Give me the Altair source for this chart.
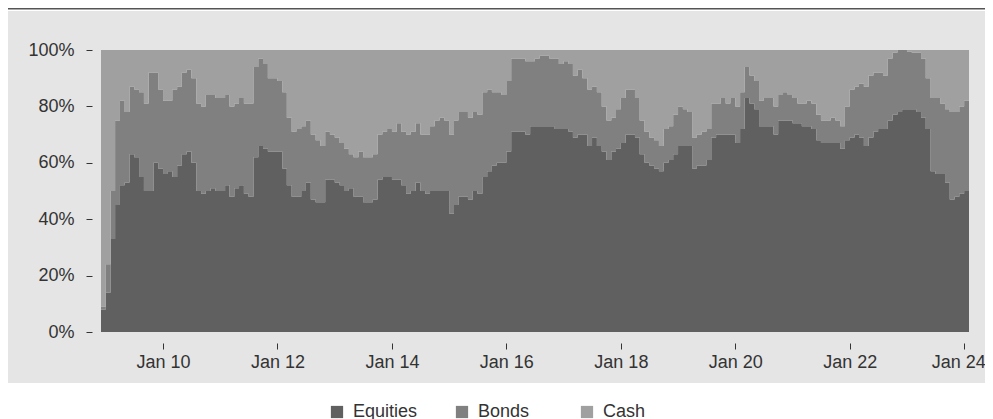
import altair as alt
import pandas as pd

start_month = "2008-12-01"
n_months = 182

equities = [8, 14, 33, 45, 52, 53, 63, 62, 55, 50, 50, 60, 58, 56, 57, 55, 59, 63, 64, 60,
            50, 49, 50, 51, 50, 50, 52, 48, 51, 52, 49, 48, 62, 66, 65, 64, 64, 64, 58, 52,
            48, 48, 50, 53, 47, 46, 46, 54, 54, 53, 52, 50, 51, 48, 48, 46, 46, 47, 54, 55,
            55, 54, 54, 52, 49, 50, 53, 50, 49, 50, 50, 50, 50, 42, 45, 48, 48, 47, 50, 49,
            55, 57, 59, 60, 60, 64, 71, 71, 71, 70, 73, 73, 73, 73, 73, 72, 72, 72, 71, 69,
            70, 70, 66, 69, 66, 64, 61, 64, 65, 67, 70, 70, 69, 63, 60, 59, 58, 57, 60, 61,
            63, 66, 66, 66, 58, 59, 59, 61, 69, 70, 70, 70, 70, 67, 72, 83, 81, 79, 73, 73,
            73, 70, 75, 75, 75, 74, 74, 73, 73, 72, 68, 67, 67, 67, 67, 65, 68, 69, 70, 69,
            66, 69, 71, 72, 72, 75, 77, 78, 79, 79, 79, 78, 76, 72, 57, 56, 56, 53, 47, 48,
            49, 50]

bonds = [1, 10, 17, 30, 30, 25, 24, 24, 30, 31, 42, 32, 28, 26, 25, 31, 28, 29, 29, 30,
         31, 31, 34, 33, 33, 33, 32, 32, 30, 31, 32, 33, 32, 31, 30, 26, 26, 25, 27, 24,
         23, 24, 23, 22, 23, 22, 20, 17, 16, 16, 15, 15, 12, 14, 16, 16, 16, 16, 16, 16,
         17, 17, 20, 19, 21, 21, 21, 20, 21, 23, 25, 26, 25, 28, 30, 30, 30, 29, 28, 28,
         30, 29, 26, 25, 24, 25, 26, 26, 26, 26, 23, 24, 25, 25, 24, 25, 23, 24, 24, 22,
         23, 20, 20, 18, 19, 16, 14, 12, 14, 16, 16, 16, 14, 12, 11, 10, 10, 9, 12, 12,
         14, 14, 13, 12, 11, 11, 12, 11, 12, 11, 13, 11, 13, 13, 13, 11, 10, 10, 9, 10,
         10, 10, 9, 10, 9, 9, 7, 8, 9, 9, 9, 8, 8, 9, 8, 8, 12, 17, 17, 19,
         21, 22, 21, 20, 19, 22, 22, 22, 21, 20.5, 20, 21, 21, 18, 26, 27, 25, 26, 31, 30,
         31, 32]

cash = [91, 76, 50, 25, 18, 22, 13, 14, 15, 19, 8, 8, 14, 18, 18, 14, 13, 8, 7, 10,
        19, 20, 16, 16, 17, 17, 16, 20, 19, 17, 19, 19, 6, 3, 5, 10, 10, 11, 15, 24,
        29, 28, 27, 25, 30, 32, 34, 29, 30, 31, 33, 35, 37, 38, 36, 38, 38, 37, 30, 29,
        28, 29, 26, 29, 30, 29, 26, 30, 30, 27, 25, 24, 25, 30, 25, 22, 22, 24, 22, 23,
        15, 14, 15, 15, 16, 11, 3, 3, 3, 4, 4, 3, 2, 2, 3, 3, 5, 4, 5, 9,
        7, 10, 14, 13, 15, 20, 25, 24, 21, 17, 14, 14, 17, 25, 29, 31, 32, 34, 28, 27,
        23, 20, 21, 22, 31, 30, 29, 28, 19, 19, 17, 19, 17, 20, 15, 6, 9, 11, 18, 17,
        17, 20, 16, 15, 16, 17, 19, 19, 18, 19, 23, 25, 25, 24, 25, 27, 20, 14, 13, 12,
        13, 9, 8, 8, 9, 3, 1, 0, 0, 0.5, 1, 1, 3, 10, 17, 17, 19, 21, 22, 22,
        20, 18]

series_names = ["Equities", "Bonds", "Cash"]
series_colors = ["#606060", "#808080", "#a0a0a0"]
tick_years = [2010, 2012, 2014, 2016, 2018, 2020, 2022, 2024]
pct_ticks = [0, 0.2, 0.4, 0.6, 0.8, 1.0]

# Step table: one row per month start; the last month is also closed at its end date
months = list(pd.date_range(start_month, periods=n_months, freq="MS"))
stamps = months + [months[-1] + pd.offsets.MonthBegin(1)]
rows = []
for j, t in enumerate(stamps):
    i = min(j, n_months - 1)
    vals = [equities[i], bonds[i], cash[i]]
    total = float(sum(vals))
    base = 0.0
    for k, name in enumerate(series_names):
        top = base + vals[k] / total
        rows.append({
            "t": t.strftime("%Y-%m-%dT00:00:00"),
            "series": name,
            "lo": base,
            "hi": top,
        })
        base = top
df = pd.DataFrame(rows)

W, H = 868, 282
PAD_L, PAD_T, PAD_R, PAD_B = 93, 42, 16, 100

panel = alt.Chart(pd.DataFrame({"p": [0]})).mark_rect(color="#e5e5e5").encode(
    x=alt.value(-PAD_L), x2=alt.value(W + PAD_R),
    y=alt.value(-39), y2=alt.value(333),
)
topline = alt.Chart(pd.DataFrame({"p": [0]})).mark_rule(color="#555555", strokeWidth=1.6).encode(
    x=alt.value(-PAD_L), x2=alt.value(W + PAD_R), y=alt.value(-41.2),
)

color_scale = alt.Scale(domain=series_names, range=series_colors)

areas = alt.Chart(df).mark_area(interpolate="step-after").encode(
    x=alt.X(
        "t:T",
        scale=alt.Scale(
            domain=[alt.DateTime(year=2008, month=12, date=1),
                    alt.DateTime(year=2024, month=2, date=1)],
            nice=False,
        ),
        axis=alt.Axis(
            values=[alt.DateTime(year=y, month=1, date=1) for y in tick_years],
            format="%b %y", title=None, offset=11, tickSize=6, labelPadding=4,
            zindex=1,
            labelOffset=alt.condition("year(datum.value) >= 2024", alt.value(-6), alt.value(0)),
        ),
    ),
    y=alt.Y(
        "hi:Q",
        scale=alt.Scale(domain=[0, 1], nice=False),
        axis=alt.Axis(values=pct_ticks, format=".0%", title=None,
                      offset=9, tickSize=6, labelPadding=12, zindex=1),
    ),
    y2="lo:Q",
    color=alt.Color(
        "series:N", scale=color_scale,
        legend=alt.Legend(
            title=None, orient="none", legendX=227, legendY=353,
            direction="horizontal", columns=3, gridAlign="all",
            symbolType="square", symbolSize=150, symbolStrokeWidth=0,
            labelFontSize=18, labelColor="#333333", labelOffset=7,
            columnPadding=35, padding=0,
        ),
    ),
)

chart = alt.layer(panel, topline, areas).properties(
    width=W, height=H,
    padding={"left": PAD_L, "top": PAD_T, "right": PAD_R, "bottom": PAD_B},
    autosize=alt.AutoSizeParams(type="none"),
).configure(
    font="Liberation Sans",
).configure_axis(
    domain=False, grid=False, labelFontSize=18, labelColor="#333333",
    tickColor="#333333", tickWidth=1,
).configure_view(stroke=None)

chart.save("out.html", embed_options={"renderer": "svg", "actions": False})
